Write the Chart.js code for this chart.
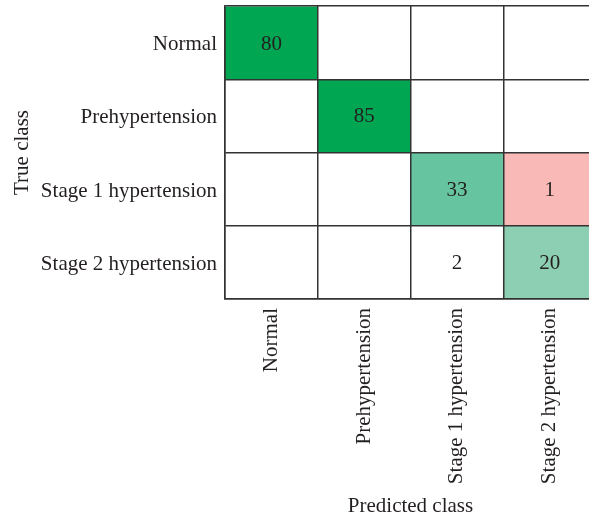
<!DOCTYPE html>
<html>
<head>
<meta charset="utf-8">
<script src="https://cdn.jsdelivr.net/npm/chart.js@4/dist/chart.umd.min.js"></script>
<style>
  html, body { margin: 0; padding: 0; background: #fff; overflow: hidden; }
  #wrap { width: 600px; height: 519px; }
</style>
</head>
<body>
<div id="wrap"><canvas id="myChart"></canvas></div>
<script>
// Confusion matrix data
const predictedClasses = ['Normal', 'Prehypertension', 'Stage 1 hypertension', 'Stage 2 hypertension'];
const trueClasses = ['Normal', 'Prehypertension', 'Stage 1 hypertension', 'Stage 2 hypertension'];
const normalRow = [80, 0, 0, 0];
const prehypertensionRow = [0, 85, 0, 0];
const stage1Row = [0, 0, 33, 1];
const stage2Row = [0, 0, 2, 20];
const counts = [normalRow, prehypertensionRow, stage1Row, stage2Row];

// Cell fill colours (white = empty)
const cellColors = [
    ['#00a651', '#ffffff', '#ffffff', '#ffffff'],
    ['#ffffff', '#00a651', '#ffffff', '#ffffff'],
    ['#ffffff', '#ffffff', '#66c5a0', '#f8b9b7'],
    ['#ffffff', '#ffffff', '#ffffff', '#8dcfb3']
];

const lineColor = '#333333';
const textColor = '#231f20';
const fontFamily = '"Liberation Serif", "DejaVu Serif", serif';
const fontSize = 21;

// Each true class is one dataset of floating bars spanning its row
const datasets = trueClasses.map((name, r) => ({
    label: name,
    data: predictedClasses.map(() => [r, r + 1]),
    counts: counts[r],
    backgroundColor: cellColors[r],
    borderWidth: 0,
    grouped: false,
    barPercentage: 1,
    categoryPercentage: 1
}));

// Draw the counts in the middle of each non-empty cell
const cellLabels = {
    id: 'cellLabels',
    afterDraw(chart) {
        const { ctx } = chart;
        ctx.save();
        ctx.font = fontSize + 'px ' + fontFamily;
        ctx.fillStyle = textColor;
        ctx.textAlign = 'center';
        ctx.textBaseline = 'middle';
        chart.data.datasets.forEach((ds, i) => {
            chart.getDatasetMeta(i).data.forEach((el, j) => {
                const v = ds.counts[j];
                if (!v) return;
                const p = el.getCenterPoint();
                ctx.fillText(String(v), p.x, p.y + 1);
            });
        });
        ctx.restore();
    }
};

const ctx = document.getElementById('myChart').getContext('2d');
new Chart(ctx, {
    type: 'bar',
    data: { labels: predictedClasses, datasets },
    plugins: [cellLabels],
    options: {
        responsive: true,
        maintainAspectRatio: false,
        animation: false,
        layout: { padding: { top: 6, right: 4, left: 0, bottom: 0 } },
        plugins: {
            legend: { display: false },
            tooltip: { enabled: false }
        },
        scales: {
            x: {
                type: 'category',
                offset: true,
                grid: { offset: true, color: lineColor, lineWidth: 1.5, drawTicks: false, z: 1 },
                border: { color: lineColor, width: 1.5, z: 1 },
                ticks: {
                    maxRotation: 90,
                    minRotation: 90,
                    padding: 9,
                    color: textColor,
                    font: { family: fontFamily, size: fontSize }
                },
                title: {
                    display: true,
                    text: 'Predicted class',
                    color: textColor,
                    font: { family: fontFamily, size: fontSize },
                    padding: { top: 2, bottom: 0 }
                },
                afterFit(scale) {
                    scale.height = 220;
                    scale.paddingLeft = 0;
                    scale.paddingRight = 0;
                }
            },
            y: {
                type: 'linear',
                min: 0,
                max: 4,
                reverse: true,
                grid: {
                    color: c => Number.isInteger(c.tick.value) ? lineColor : 'rgba(0,0,0,0)',
                    lineWidth: 1.5,
                    drawTicks: false,
                    z: 1
                },
                border: { color: lineColor, width: 1.5, z: 1 },
                ticks: {
                    stepSize: 0.5,
                    autoSkip: false,
                    padding: 8,
                    labelOffset: 2,
                    color: textColor,
                    font: { family: fontFamily, size: fontSize },
                    callback: v => Number.isInteger(v) ? '' : trueClasses[Math.floor(v)]
                },
                title: {
                    display: true,
                    text: 'True class',
                    color: textColor,
                    font: { family: fontFamily, size: fontSize },
                    padding: { top: 10, bottom: 0 }
                },
                afterFit(scale) {
                    scale.width = 225;
                    scale.paddingTop = 0;
                    scale.paddingBottom = 0;
                }
            }
        }
    }
});
</script>
</body>
</html>
